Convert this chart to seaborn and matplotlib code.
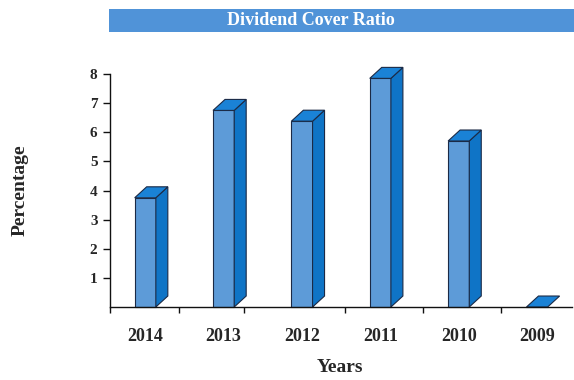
import matplotlib
matplotlib.use("Agg")
import matplotlib.pyplot as plt
import pandas as pd
import seaborn as sns
from matplotlib.patches import Polygon, Rectangle

# Dividend cover ratio by year
years = ["2014", "2013", "2012", "2011", "2010", "2009"]
cover_ratio = [3.75, 6.75, 6.38, 7.85, 5.7, 0.0]
y_ticks = [1, 2, 3, 4, 5, 6, 7, 8]
x_minor_ticks = [-0.45, 0.43, 1.26, 2.55, 3.55, 4.54]

FRONT = "#5d9bd8"
SIDE = "#0f74c6"
TOP = "#1a82d6"
EDGE = "#1b2a46"
BANNER = "#5093d8"

sns.set_theme(style="white")
plt.rcParams["font.family"] = ["Liberation Serif", "DejaVu Serif"]

fig = plt.figure(figsize=(5.74, 3.80), dpi=100)
W, H = 574, 380
ax = fig.add_axes([110 / W, (H - 307) / H, 462 / W, 233 / H])

df = pd.DataFrame({"Years": years, "Percentage": cover_ratio})
sns.barplot(data=df, x="Years", y="Percentage", order=years, color=FRONT,
            saturation=1, width=0.27, edgecolor=EDGE, linewidth=0.8, ax=ax)

ax.set_xlim(-0.446, 5.446)
ax.set_ylim(0, 8)

# depth of the 3D extrusion in data units
dx, dy = 0.153, 0.377
for p in ax.patches[:len(years)]:
    x0, w, h = p.get_x(), p.get_width(), p.get_height()
    if h > 0:
        side = Polygon([(x0 + w, 0), (x0 + w + dx, dy), (x0 + w + dx, h + dy), (x0 + w, h)],
                       closed=True, facecolor=SIDE, edgecolor=EDGE, linewidth=0.8,
                       clip_on=False, zorder=p.get_zorder())
        ax.add_patch(side)
    top = Polygon([(x0, h), (x0 + w, h), (x0 + w + dx, h + dy), (x0 + dx, h + dy)],
                  closed=True, facecolor=TOP, edgecolor=EDGE, linewidth=0.8,
                  clip_on=False, zorder=p.get_zorder())
    ax.add_patch(top)
    p.set_clip_on(False)

sns.despine(ax=ax)
for s in ("left", "bottom"):
    ax.spines[s].set_color("#111111")
    ax.spines[s].set_linewidth(1.0)

ax.set_yticks(y_ticks)
ax.set_yticklabels([str(t) for t in y_ticks], fontsize=11, fontweight="bold")
ax.tick_params(axis="y", direction="out", length=5, width=1, pad=4, color="#111111", left=True)

ax.set_xticks(range(len(years)))
ax.set_xticklabels(years, fontsize=13, fontweight="bold")
ax.set_xticks(x_minor_ticks, minor=True)
ax.tick_params(axis="x", which="major", length=0, pad=15)
ax.tick_params(axis="x", which="minor", direction="out", length=4, width=1, color="#111111", bottom=True)

ax.set_xlabel("Years", fontsize=14, fontweight="heavy")
ax.set_ylabel("Percentage", fontsize=14, fontweight="heavy")
ax.xaxis.set_label_coords((340 - 110) / 462, -(367 - 307) / 233)
ax.yaxis.set_label_coords((20 - 110) / 462, (307 - 190) / 233)
ax.xaxis.label.set_va("center")
ax.yaxis.label.set_va("center")

# title banner
fig.patches.append(Rectangle((109 / W, (H - 32) / H), (W - 109) / W, 23 / H,
                             transform=fig.transFigure, facecolor=BANNER,
                             edgecolor="none", zorder=0))
fig.text(311 / W, (H - 20.5) / H, "Dividend Cover Ratio", color="white",
         fontsize=13, fontweight="bold", ha="center", va="center")

fig.savefig("out.png", dpi=100, facecolor="white")
